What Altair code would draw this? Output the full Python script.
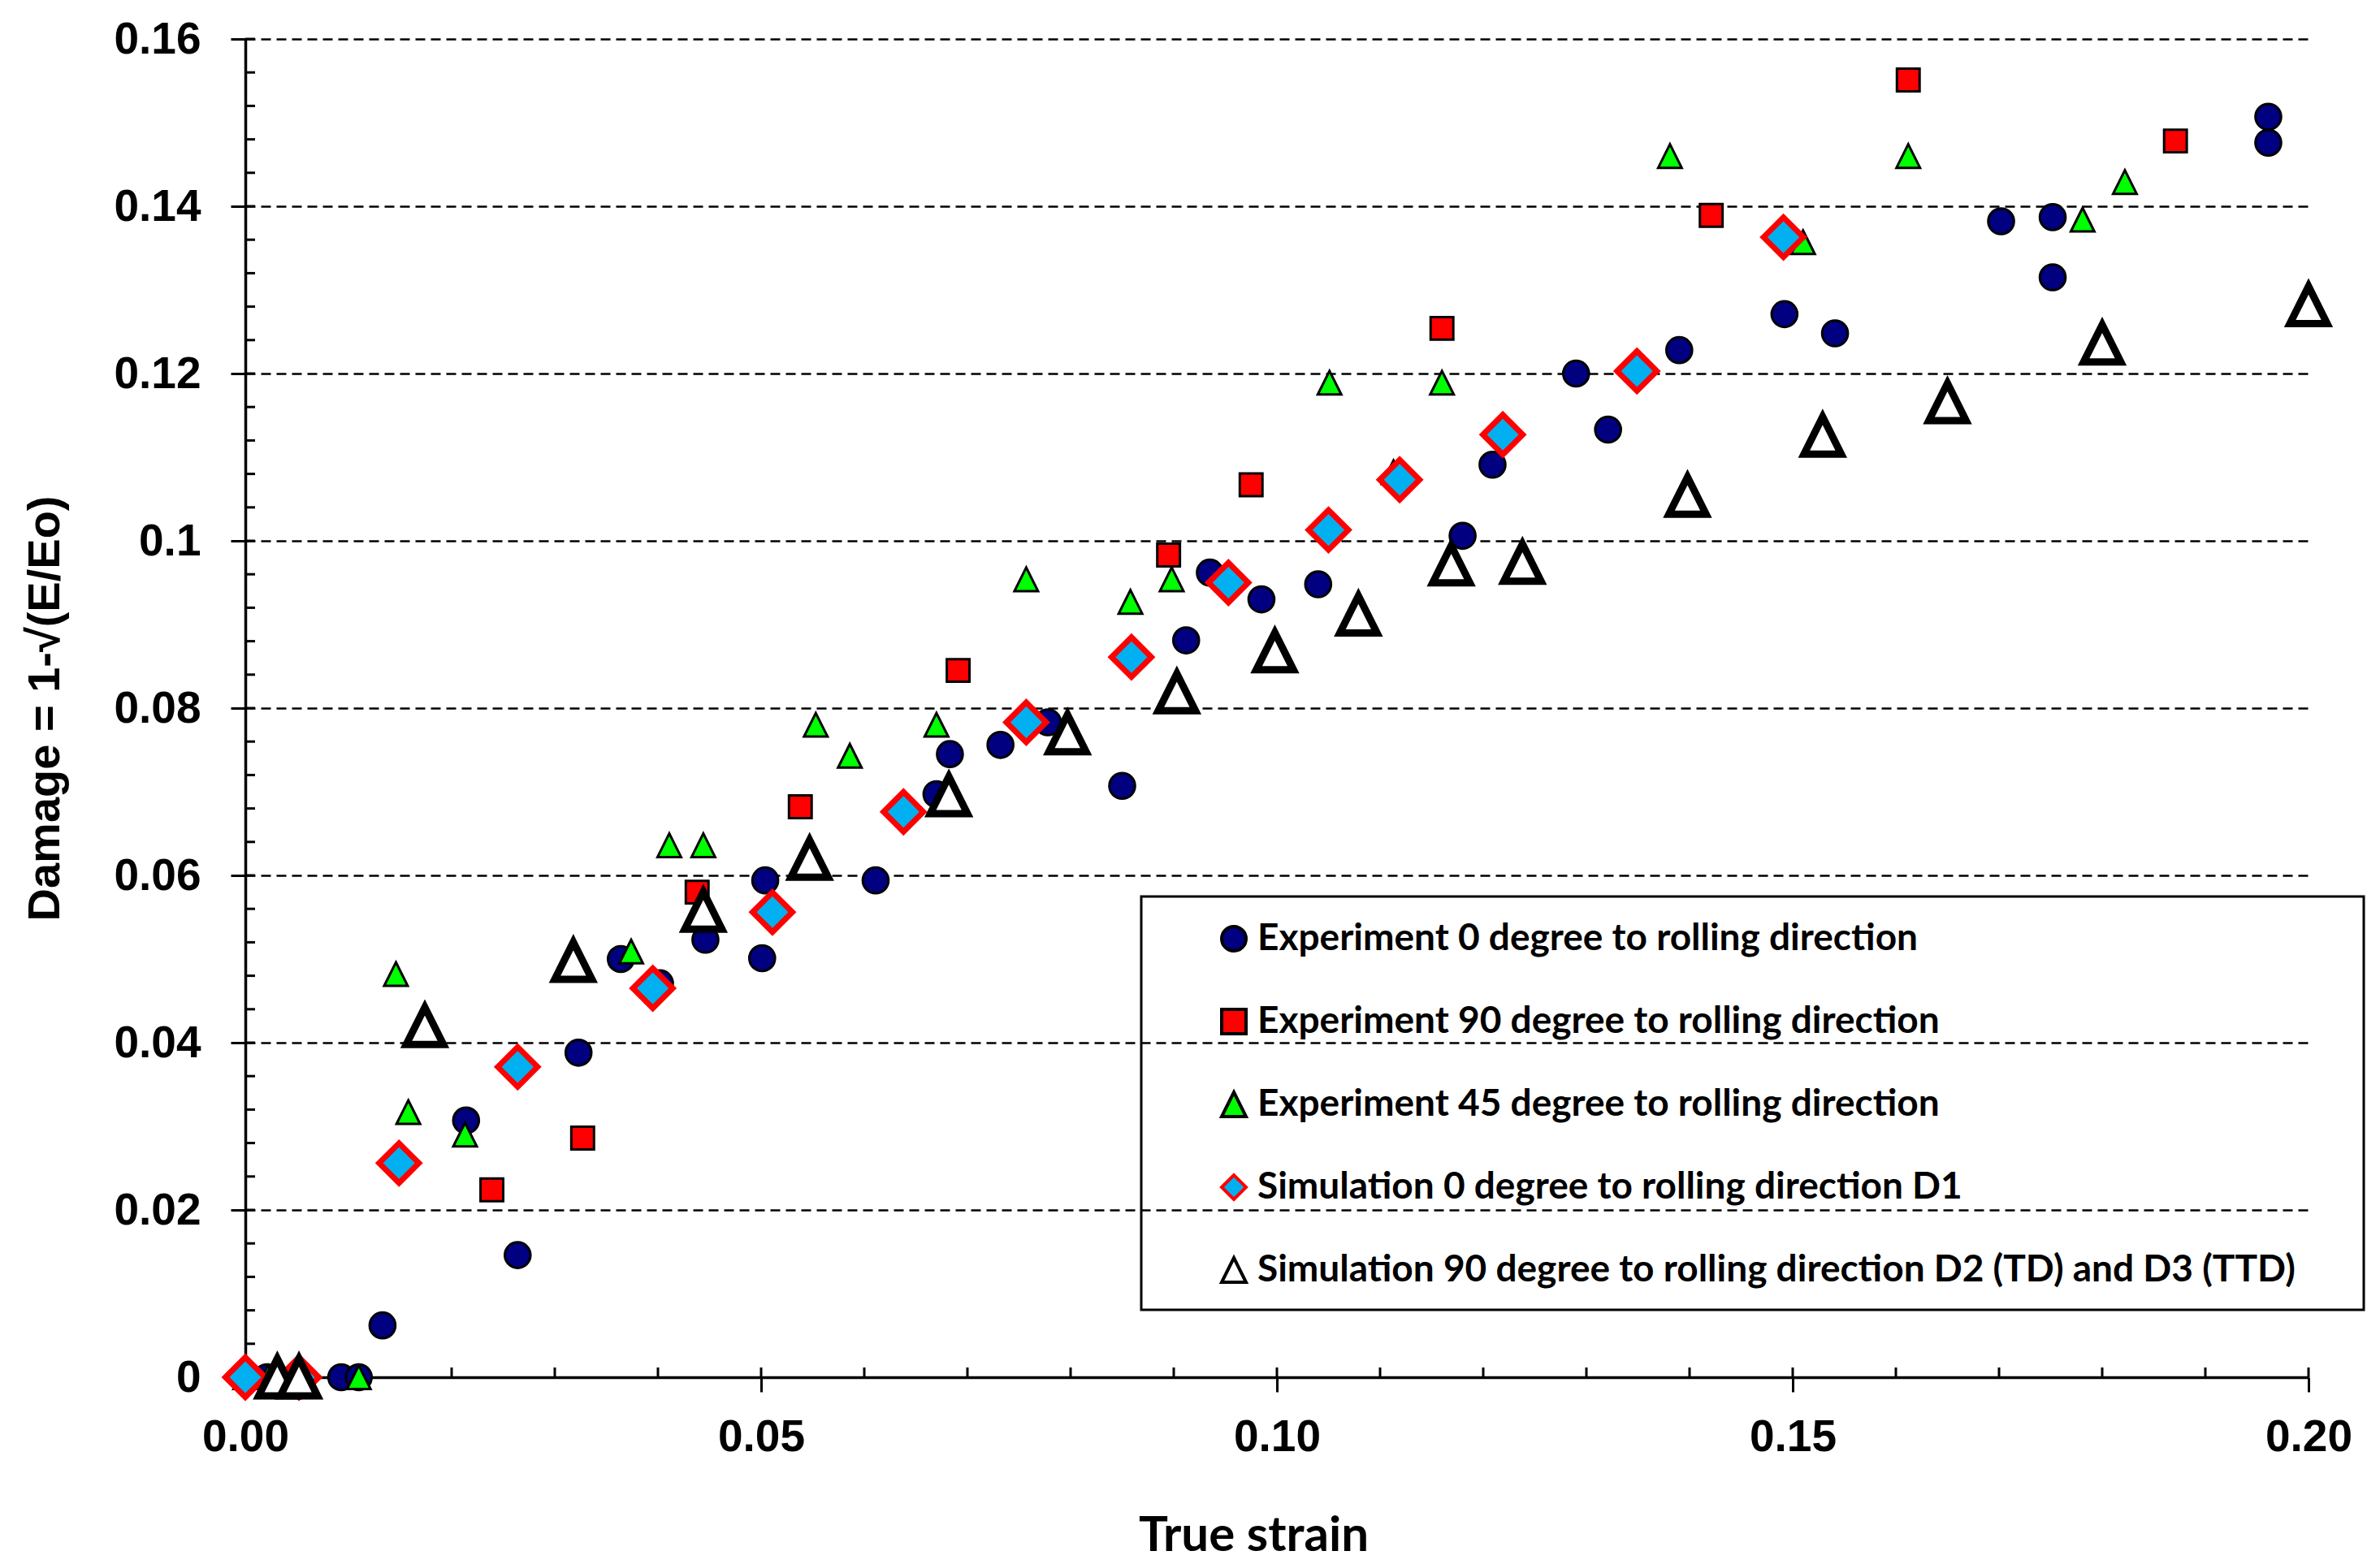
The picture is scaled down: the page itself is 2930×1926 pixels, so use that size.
import altair as alt
import pandas as pd

series_names = [
    "Experiment 0 degree to rolling direction",
    "Experiment 90 degree to rolling direction",
    "Experiment 45 degree to rolling direction",
    "Simulation 0 degree to rolling direction D1",
    "Simulation 90 degree to rolling direction D2 (TD) and D3 (TTD)",
]

exp0_x = [0.0021, 0.0093, 0.0110, 0.0133, 0.0214, 0.0264, 0.0264, 0.0323, 0.0364, 0.0402,
          0.0446, 0.0501, 0.0504, 0.0611, 0.0670, 0.0683, 0.0732, 0.0778, 0.0850, 0.0912,
          0.0935, 0.0985, 0.1040, 0.1180, 0.1209, 0.1290, 0.1321, 0.1390, 0.1492, 0.1541,
          0.1702, 0.1752, 0.1752, 0.1961, 0.1961]
exp0_y = [0.0, 0.0, 0.0, 0.0062, 0.0307, 0.0373, 0.0146, 0.0388, 0.0500, 0.0471,
          0.0523, 0.0501, 0.0594, 0.0594, 0.0697, 0.0745, 0.0756, 0.0783, 0.0707, 0.0881,
          0.0962, 0.0930, 0.0948, 0.1006, 0.1091, 0.1200, 0.1133, 0.1228, 0.1271, 0.1248,
          0.1382, 0.1387, 0.1315, 0.1507, 0.1476]

exp90_x = [0.0239, 0.0327, 0.0438, 0.0538, 0.0691, 0.0895, 0.0975, 0.1160, 0.1421, 0.1612, 0.1871]
exp90_y = [0.0224, 0.0286, 0.0580, 0.0682, 0.0845, 0.0983, 0.1067, 0.1254, 0.1389, 0.1551, 0.1478]

exp45_x = [0.0, 0.0022, 0.0057, 0.0110, 0.0146, 0.0158, 0.0213, 0.0374, 0.0411, 0.0444,
           0.0553, 0.0586, 0.0670, 0.0757, 0.0858, 0.0898, 0.1051, 0.1113, 0.1160, 0.1381,
           0.1510, 0.1612, 0.1781, 0.1822]
exp45_y = [0.0, 0.0, 0.0, 0.0, 0.0482, 0.0317, 0.0290, 0.0509, 0.0636, 0.0636,
           0.0780, 0.0743, 0.0780, 0.0954, 0.0927, 0.0954, 0.1189, 0.1082, 0.1189, 0.1460,
           0.1357, 0.1460, 0.1384, 0.1429]

sim_d1_x = [0.0, 0.0052, 0.0149, 0.0264, 0.0395, 0.0511, 0.0638, 0.0757, 0.0859, 0.0953,
            0.1050, 0.1119, 0.1219, 0.1349, 0.1491]
sim_d1_y = [0.0, 0.0, 0.0256, 0.0371, 0.0465, 0.0556, 0.0676, 0.0783, 0.0861, 0.0950,
            0.1013, 0.1073, 0.1127, 0.1203, 0.1363]

sim_d2_x = [0.0031, 0.0052, 0.0174, 0.0318, 0.0444, 0.0547, 0.0682, 0.0797, 0.0903, 0.0998,
            0.1079, 0.1169, 0.1238, 0.1398, 0.1529, 0.1650, 0.1800, 0.2000]
sim_d2_y = [0.0, 0.0, 0.0420, 0.0498, 0.0558, 0.0620, 0.0696, 0.0770, 0.0819, 0.0868,
            0.0912, 0.0972, 0.0974, 0.1054, 0.1126, 0.1166, 0.1236, 0.1282]

x_tick_labels = [0.0, 0.05, 0.10, 0.15, 0.20]
y_tick_labels = [0.0, 0.02, 0.04, 0.06, 0.08, 0.10, 0.12, 0.14, 0.16]
x_minor = [round(i * 0.01, 3) for i in range(0, 21)]
y_minor = [round(i * 0.004, 4) for i in range(0, 41)]

X_TITLE = "True strain"
Y_TITLE = "Damage = 1-\u221a(E/Eo)"

W, H = 2540, 1648
xscale = alt.Scale(domain=[0, 0.2], nice=False, zero=False)
yscale = alt.Scale(domain=[0, 0.16], nice=False, zero=False)

tri = "M0,-1L1,1L-1,1Z"
shape_range = ["circle", "square", tri, "diamond", tri]
fill_range = ["#000080", "#FF0000", "#00FF00", "#00B0F0", "#FFFFFF"]
stroke_range = ["#000000", "#000000", "#000000", "#FF0000", "#000000"]
marker_sizes = [1000, 780, 841, 2400, 2100]
marker_strokes = [3, 3, 3, 7, 9]

legend = alt.Legend(
    title=None, orient="none", legendX=1103, legendY=1056,
    padding=29, symbolOffset=62, labelOffset=6, rowPadding=56,
    labelFont="Lato", labelFontWeight="bold", labelFontSize=46, labelColor="black",
    symbolSize=900, symbolStrokeWidth=4, labelLimit=3000,
)

x_axis = alt.Axis(values=x_tick_labels, format=".2f", grid=False, labelFlush=False,
                  titleFont="Lato", titleFontWeight="bold", titleFontSize=60,
                  titleColor="black", titleX=1241, titleY=166,
                  labelPadding=29)
y_axis = alt.Axis(values=y_tick_labels, format="~g", grid=True, gridColor="black",
                  gridDash=[12, 7], gridWidth=2.5, gridOpacity=1, labelFlush=False,
                  titleFont="Liberation Sans", titleFontWeight="bold", titleFontSize=56,
                  titleColor="black", titleX=-218, titleY=824, labelPadding=37)

# minor/inner tick marks
ymin_df = pd.DataFrame({"damage": y_minor})
xmin_df = pd.DataFrame({"strain": x_minor})

y_minor_rules = alt.Chart(ymin_df).mark_rule(color="black", strokeWidth=3).encode(
    y=alt.Y("damage:Q", scale=yscale, title=Y_TITLE, axis=y_axis),
    x=alt.value(0), x2=alt.value(12),
)
x_minor_rules = alt.Chart(xmin_df).mark_rule(color="black", strokeWidth=3).encode(
    x=alt.X("strain:Q", scale=xscale, title=X_TITLE, axis=x_axis),
    y=alt.value(H), y2=alt.value(H - 12),
)

all_x = [exp0_x, exp90_x, exp45_x, sim_d1_x, sim_d2_x]
all_y = [exp0_y, exp90_y, exp45_y, sim_d1_y, sim_d2_y]

point_layers = []
for name, xs, ys, sz, sw in zip(series_names, all_x, all_y, marker_sizes, marker_strokes):
    d = pd.DataFrame({"strain": xs, "damage": ys, "series": [name] * len(xs)})
    layer = alt.Chart(d).mark_point(filled=True, opacity=1, size=sz, strokeWidth=sw).encode(
        x=alt.X("strain:Q", scale=xscale, title=X_TITLE),
        y=alt.Y("damage:Q", scale=yscale, title=Y_TITLE),
        shape=alt.Shape("series:N", scale=alt.Scale(domain=series_names, range=shape_range), legend=legend),
        fill=alt.Fill("series:N", scale=alt.Scale(domain=series_names, range=fill_range), legend=legend),
        stroke=alt.Stroke("series:N", scale=alt.Scale(domain=series_names, range=stroke_range), legend=legend),
    )
    point_layers.append(layer)

frame = alt.Chart(pd.DataFrame({"k": [0]})).mark_rect(
    fillOpacity=0, stroke="black", strokeWidth=3
).encode(
    x=alt.value(1103), x2=alt.value(2608), y=alt.value(1056), y2=alt.value(1565),
)

chart = alt.layer(y_minor_rules, x_minor_rules, *point_layers, frame).properties(
    width=W, height=H,
    autosize=alt.AutoSizeParams(type="none"),
    padding={"left": 294, "top": 40, "right": 80, "bottom": 226},
    background="white",
).configure_axis(
    domainColor="black", domainWidth=3.5, tickColor="black", tickWidth=3, tickSize=18,
    labelFont="Liberation Sans", labelFontWeight="bold", labelFontSize=55, labelColor="black",
).configure_view(stroke="transparent")

chart.save("out.html", embed_options={"renderer": "svg", "actions": False})
